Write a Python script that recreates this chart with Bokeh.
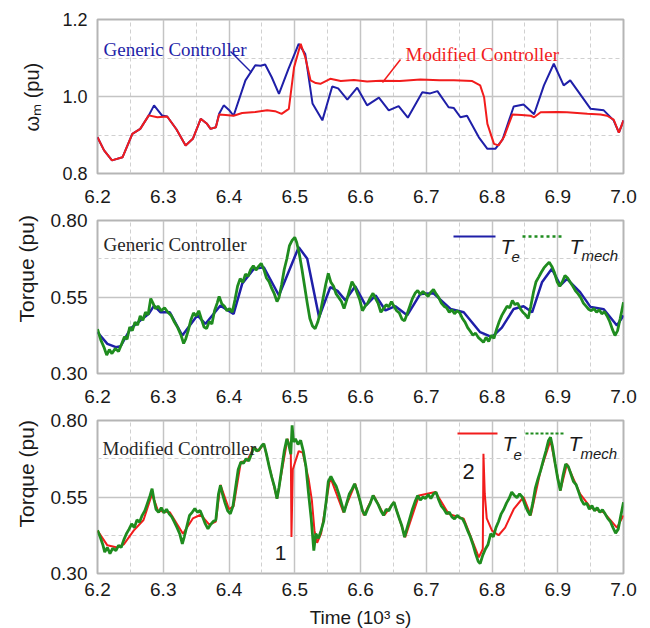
import math
from bokeh.plotting import figure
from bokeh.layouts import column
from bokeh.models import Label, Arrow, Range1d, FixedTicker, NumeralTickFormatter, Title
from bokeh.embed import file_html
from bokeh.resources import INLINE

# ---------------- data ----------------
x_ticks = [6.2, 6.3, 6.4, 6.5, 6.6, 6.7, 6.8, 6.9, 7.0]
x_minor = [6.25, 6.35, 6.45, 6.55, 6.65, 6.75, 6.85, 6.95]
w_ticks = [0.8, 1.0, 1.2]
w_minor = [0.9, 1.1]
tq_ticks = [0.30, 0.55, 0.80]
tq_minor = [0.425, 0.675]

# panel 1: rotor speed (pu)
t1_red = [6.200, 6.210, 6.222, 6.238, 6.253, 6.265, 6.278, 6.291, 6.306, 6.320,
          6.334, 6.345, 6.357, 6.366, 6.372, 6.380, 6.385, 6.395, 6.407, 6.420,
          6.440, 6.458, 6.470, 6.480, 6.491, 6.499, 6.509, 6.516, 6.524, 6.532,
          6.539, 6.554, 6.570, 6.590, 6.610, 6.630, 6.660, 6.691, 6.720, 6.742,
          6.770, 6.782, 6.788, 6.793, 6.803, 6.810, 6.818, 6.831, 6.845, 6.859,
          6.864, 6.874, 6.900, 6.914, 6.945, 6.965, 6.975, 6.985, 6.993, 7.000]
w_modified = [0.894, 0.860, 0.834, 0.842, 0.903, 0.916, 0.951, 0.946, 0.948, 0.915,
              0.873, 0.890, 0.942, 0.930, 0.916, 0.920, 0.953, 0.952, 0.950, 0.957,
              0.960, 0.964, 0.962, 0.955, 0.968, 1.076, 1.137, 1.102, 1.042, 1.035,
              1.033, 1.046, 1.040, 1.043, 1.039, 1.041, 1.040, 1.044, 1.042, 1.042,
              1.040, 1.029, 0.998, 0.929, 0.877, 0.873, 0.894, 0.953, 0.952, 0.950,
              0.946, 0.959, 0.960, 0.959, 0.955, 0.953, 0.950, 0.940, 0.906, 0.938]

t1_blue = [6.200, 6.210, 6.222, 6.238, 6.253, 6.265, 6.278, 6.286, 6.298, 6.306,
           6.320, 6.334, 6.345, 6.357, 6.366, 6.372, 6.380, 6.385, 6.392, 6.400,
           6.407, 6.425, 6.440, 6.448, 6.455, 6.465, 6.476, 6.490, 6.506, 6.516,
           6.527, 6.542, 6.557, 6.566, 6.580, 6.595, 6.610, 6.628, 6.643, 6.658,
           6.672, 6.694, 6.706, 6.717, 6.734, 6.742, 6.752, 6.762, 6.780, 6.793,
           6.805, 6.816, 6.833, 6.848, 6.864, 6.879, 6.894, 6.909, 6.919, 6.950,
           6.970, 6.985, 6.993, 7.000]
w_generic = [0.894, 0.860, 0.834, 0.842, 0.903, 0.916, 0.951, 0.977, 0.951, 0.948,
             0.915, 0.873, 0.890, 0.942, 0.930, 0.916, 0.920, 0.955, 0.977, 0.965,
             0.950, 1.042, 1.081, 1.080, 1.083, 1.050, 1.007, 1.070, 1.137, 1.110,
             0.982, 0.938, 1.026, 1.021, 0.992, 1.023, 0.977, 0.997, 0.964, 0.975,
             0.945, 1.011, 1.008, 1.014, 0.972, 0.970, 0.946, 0.950, 0.894, 0.864,
             0.864, 0.888, 0.974, 0.979, 0.954, 1.029, 1.085, 1.029, 1.042, 0.968,
             0.964, 0.938, 0.906, 0.938]

# panel 2: generic controller torques
t2_te = [6.200, 6.215, 6.228, 6.235, 6.250, 6.265, 6.278, 6.286, 6.296, 6.310,
         6.329, 6.352, 6.364, 6.387, 6.407, 6.420, 6.438, 6.453, 6.476, 6.506,
         6.519, 6.537, 6.554, 6.565, 6.577, 6.592, 6.608, 6.623, 6.638, 6.653,
         6.671, 6.691, 6.711, 6.737, 6.757, 6.782, 6.800, 6.815, 6.833, 6.848,
         6.861, 6.876, 6.891, 6.904, 6.914, 6.934, 6.950, 6.970, 6.990, 7.000]
te_generic = [0.435, 0.397, 0.386, 0.389, 0.446, 0.473, 0.495, 0.522, 0.500, 0.500,
              0.424, 0.490, 0.462, 0.522, 0.495, 0.593, 0.642, 0.647, 0.555, 0.713,
              0.675, 0.484, 0.582, 0.570, 0.539, 0.585, 0.522, 0.555, 0.506, 0.520,
              0.490, 0.560, 0.562, 0.511, 0.500, 0.435, 0.419, 0.450, 0.511, 0.520,
              0.500, 0.598, 0.642, 0.588, 0.609, 0.566, 0.517, 0.510, 0.457, 0.490]

t2_tm = [6.200, 6.205, 6.210, 6.214, 6.218, 6.222, 6.227, 6.232, 6.237, 6.241,
         6.245, 6.249, 6.253, 6.257, 6.261, 6.265, 6.269, 6.273, 6.277, 6.281,
         6.284, 6.288, 6.292, 6.297, 6.302, 6.307, 6.312, 6.317, 6.322, 6.327,
         6.331, 6.334, 6.338, 6.342, 6.346, 6.350, 6.354, 6.358, 6.362, 6.366,
         6.370, 6.374, 6.378, 6.382, 6.385, 6.389, 6.393, 6.397, 6.401, 6.405,
         6.409, 6.413, 6.417, 6.421, 6.425, 6.429, 6.433, 6.437, 6.441, 6.445,
         6.449, 6.453, 6.457, 6.461, 6.465, 6.469, 6.473, 6.476, 6.480, 6.484,
         6.488, 6.492, 6.496, 6.500, 6.503, 6.507, 6.511, 6.515, 6.519, 6.523,
         6.527, 6.531, 6.535, 6.539, 6.543, 6.547, 6.551, 6.555, 6.559, 6.563,
         6.567, 6.571, 6.575, 6.579, 6.583, 6.587, 6.591, 6.595, 6.599, 6.603,
         6.607, 6.611, 6.615, 6.619, 6.623, 6.627, 6.631, 6.635, 6.639, 6.643,
         6.647, 6.651, 6.655, 6.659, 6.663, 6.667, 6.671, 6.675, 6.679, 6.683,
         6.687, 6.691, 6.695, 6.699, 6.703, 6.707, 6.711, 6.715, 6.719, 6.723,
         6.727, 6.731, 6.735, 6.739, 6.743, 6.747, 6.751, 6.755, 6.759, 6.763,
         6.767, 6.771, 6.775, 6.779, 6.783, 6.787, 6.791, 6.795, 6.799, 6.803,
         6.807, 6.811, 6.815, 6.819, 6.823, 6.827, 6.831, 6.835, 6.839, 6.843,
         6.847, 6.851, 6.855, 6.859, 6.863, 6.867, 6.871, 6.875, 6.879, 6.883,
         6.887, 6.891, 6.895, 6.899, 6.903, 6.907, 6.911, 6.915, 6.919, 6.923,
         6.927, 6.931, 6.935, 6.939, 6.943, 6.947, 6.951, 6.955, 6.959, 6.963,
         6.967, 6.971, 6.975, 6.979, 6.983, 6.987, 6.991, 6.995, 7.000]
tm_generic = [0.445, 0.410, 0.385, 0.360, 0.378, 0.365, 0.382, 0.372, 0.398, 0.420,
              0.412, 0.452, 0.440, 0.468, 0.458, 0.488, 0.474, 0.500, 0.492, 0.545,
              0.532, 0.512, 0.520, 0.505, 0.515, 0.500, 0.490, 0.468, 0.450, 0.425,
              0.398, 0.412, 0.440, 0.475, 0.498, 0.488, 0.505, 0.478, 0.452, 0.447,
              0.470, 0.462, 0.505, 0.530, 0.552, 0.528, 0.520, 0.505, 0.512, 0.500,
              0.540, 0.585, 0.610, 0.598, 0.625, 0.618, 0.640, 0.652, 0.638, 0.650,
              0.660, 0.640, 0.612, 0.600, 0.578, 0.560, 0.535, 0.548, 0.590, 0.640,
              0.675, 0.718, 0.735, 0.745, 0.728, 0.690, 0.640, 0.585, 0.530, 0.480,
              0.455, 0.446, 0.468, 0.500, 0.545, 0.590, 0.627, 0.598, 0.585, 0.560,
              0.548, 0.535, 0.512, 0.540, 0.570, 0.600, 0.585, 0.562, 0.540, 0.505,
              0.520, 0.530, 0.548, 0.562, 0.545, 0.528, 0.500, 0.512, 0.525, 0.518,
              0.535, 0.520, 0.505, 0.498, 0.478, 0.472, 0.495, 0.520, 0.545, 0.562,
              0.571, 0.558, 0.568, 0.560, 0.552, 0.566, 0.575, 0.560, 0.548, 0.530,
              0.520, 0.515, 0.500, 0.508, 0.495, 0.505, 0.498, 0.480, 0.468, 0.450,
              0.438, 0.425, 0.432, 0.418, 0.410, 0.402, 0.418, 0.405, 0.425, 0.415,
              0.445, 0.470, 0.490, 0.505, 0.520, 0.515, 0.539, 0.525, 0.530, 0.512,
              0.500, 0.492, 0.480, 0.520, 0.565, 0.600, 0.615, 0.631, 0.645, 0.655,
              0.664, 0.650, 0.630, 0.600, 0.585, 0.600, 0.620, 0.612, 0.598, 0.585,
              0.570, 0.560, 0.548, 0.530, 0.520, 0.510, 0.505, 0.512, 0.500, 0.508,
              0.495, 0.502, 0.488, 0.470, 0.445, 0.424, 0.440, 0.480, 0.533]

# panel 3: modified controller torques
t3_te = [6.200, 6.215, 6.230, 6.240, 6.255, 6.270, 6.283, 6.292, 6.310, 6.330,
         6.345, 6.357, 6.370, 6.380, 6.387, 6.400, 6.407, 6.418, 6.428, 6.438,
         6.445, 6.453, 6.473, 6.489, 6.494, 6.495, 6.497, 6.506, 6.512, 6.521,
         6.526, 6.530, 6.534, 6.540, 6.554, 6.574, 6.592, 6.605, 6.620, 6.636,
         6.651, 6.668, 6.689, 6.714, 6.734, 6.757, 6.780, 6.786, 6.787, 6.789,
         6.792, 6.800, 6.810, 6.820, 6.833, 6.848, 6.859, 6.874, 6.889, 6.904,
         6.914, 6.934, 6.950, 6.970, 6.990, 7.000]
te_modified = [0.440, 0.392, 0.385, 0.395, 0.440, 0.475, 0.560, 0.505, 0.500, 0.430,
               0.480, 0.492, 0.460, 0.470, 0.590, 0.510, 0.520, 0.664, 0.670, 0.713,
               0.700, 0.724, 0.544, 0.740, 0.700, 0.419, 0.640, 0.700, 0.695, 0.610,
               0.540, 0.440, 0.400, 0.430, 0.615, 0.500, 0.593, 0.490, 0.555, 0.490,
               0.533, 0.419, 0.555, 0.566, 0.495, 0.479, 0.353, 0.380, 0.691, 0.560,
               0.480, 0.440, 0.425, 0.450, 0.510, 0.550, 0.490, 0.637, 0.735, 0.571,
               0.658, 0.560, 0.515, 0.500, 0.450, 0.490]

t3_tm = [6.200, 6.204, 6.208, 6.211, 6.215, 6.219, 6.223, 6.228, 6.232, 6.236,
         6.240, 6.244, 6.248, 6.252, 6.256, 6.260, 6.264, 6.268, 6.272, 6.276,
         6.280, 6.283, 6.286, 6.289, 6.293, 6.297, 6.301, 6.305, 6.309, 6.313,
         6.317, 6.321, 6.325, 6.329, 6.332, 6.336, 6.340, 6.344, 6.348, 6.352,
         6.356, 6.360, 6.364, 6.368, 6.372, 6.376, 6.380, 6.384, 6.387, 6.390,
         6.394, 6.398, 6.402, 6.406, 6.410, 6.414, 6.418, 6.422, 6.426, 6.430,
         6.434, 6.438, 6.442, 6.446, 6.450, 6.453, 6.457, 6.461, 6.465, 6.469,
         6.473, 6.476, 6.480, 6.484, 6.488, 6.491, 6.494, 6.496, 6.498, 6.501,
         6.505, 6.509, 6.513, 6.517, 6.521, 6.525, 6.529, 6.532, 6.536, 6.540,
         6.544, 6.548, 6.551, 6.555, 6.559, 6.563, 6.567, 6.571, 6.575, 6.579,
         6.583, 6.587, 6.591, 6.595, 6.599, 6.603, 6.607, 6.611, 6.615, 6.619,
         6.623, 6.627, 6.631, 6.635, 6.639, 6.643, 6.647, 6.651, 6.655, 6.659,
         6.663, 6.667, 6.671, 6.675, 6.679, 6.683, 6.687, 6.691, 6.695, 6.699,
         6.703, 6.707, 6.711, 6.715, 6.719, 6.723, 6.727, 6.731, 6.735, 6.739,
         6.743, 6.747, 6.751, 6.755, 6.759, 6.763, 6.767, 6.771, 6.775, 6.779,
         6.782, 6.786, 6.790, 6.794, 6.798, 6.802, 6.806, 6.810, 6.814, 6.818,
         6.822, 6.826, 6.830, 6.834, 6.838, 6.842, 6.846, 6.850, 6.854, 6.858,
         6.862, 6.866, 6.870, 6.874, 6.878, 6.882, 6.886, 6.889, 6.892, 6.896,
         6.900, 6.904, 6.908, 6.912, 6.916, 6.920, 6.924, 6.928, 6.932, 6.936,
         6.940, 6.944, 6.948, 6.952, 6.956, 6.960, 6.964, 6.968, 6.972, 6.976,
         6.980, 6.984, 6.988, 6.992, 6.996, 7.000]
tm_modified = [0.441, 0.420, 0.395, 0.370, 0.385, 0.365, 0.382, 0.375, 0.392, 0.385,
               0.410, 0.430, 0.445, 0.462, 0.450, 0.475, 0.468, 0.490, 0.505, 0.530,
               0.555, 0.577, 0.540, 0.510, 0.500, 0.515, 0.498, 0.510, 0.495, 0.485,
               0.468, 0.450, 0.430, 0.397, 0.420, 0.455, 0.490, 0.500, 0.512, 0.500,
               0.506, 0.485, 0.462, 0.446, 0.460, 0.470, 0.475, 0.560, 0.588, 0.560,
               0.530, 0.505, 0.495, 0.520, 0.580, 0.640, 0.664, 0.660, 0.675, 0.668,
               0.690, 0.713, 0.700, 0.705, 0.718, 0.724, 0.690, 0.650, 0.615, 0.585,
               0.544, 0.580, 0.640, 0.700, 0.740, 0.720, 0.690, 0.784, 0.730, 0.740,
               0.722, 0.735, 0.700, 0.650, 0.561, 0.480, 0.375, 0.430, 0.415, 0.440,
               0.470, 0.540, 0.600, 0.617, 0.600, 0.585, 0.560, 0.530, 0.500, 0.530,
               0.560, 0.575, 0.593, 0.570, 0.540, 0.505, 0.490, 0.512, 0.530, 0.555,
               0.540, 0.525, 0.505, 0.490, 0.510, 0.505, 0.522, 0.533, 0.505, 0.480,
               0.455, 0.419, 0.450, 0.480, 0.510, 0.535, 0.555, 0.540, 0.550, 0.545,
               0.558, 0.545, 0.560, 0.566, 0.540, 0.520, 0.510, 0.495, 0.500, 0.485,
               0.478, 0.490, 0.482, 0.479, 0.462, 0.440, 0.420, 0.395, 0.365, 0.340,
               0.332, 0.360, 0.380, 0.395, 0.430, 0.420, 0.450, 0.470, 0.495, 0.510,
               0.530, 0.545, 0.566, 0.555, 0.548, 0.560, 0.550, 0.525, 0.505, 0.490,
               0.530, 0.580, 0.610, 0.637, 0.670, 0.700, 0.735, 0.745, 0.715, 0.660,
               0.610, 0.571, 0.620, 0.658, 0.650, 0.625, 0.600, 0.590, 0.565, 0.540,
               0.525, 0.530, 0.510, 0.522, 0.505, 0.515, 0.500, 0.508, 0.495, 0.480,
               0.470, 0.450, 0.432, 0.445, 0.490, 0.533]

# ---------------- styling / layout ----------------
BLUE = "#1f1fa8"
RED = "#f21c1c"
GREEN = "#1f8c1f"
TXT = "#1a1a1a"

FRAME_L, FRAME_R = 97, 623
X0, X1 = 6.2, 7.0
P1 = dict(top=19, bot=173, y0=0.8, y1=1.2)
P2 = dict(top=220, bot=373, y0=0.30, y1=0.80)
P3 = dict(top=420, bot=573, y0=0.30, y1=0.80)


def dx(px):
    return X0 + (px - FRAME_L) * (X1 - X0) / (FRAME_R - FRAME_L)


def dy(py, P):
    return P["y1"] - (py - P["top"]) * (P["y1"] - P["y0"]) / (P["bot"] - P["top"])


def make_panel(P, page_top, height, yticks, yminor, yfmt, ysize, xstand):
    top = P["top"] - page_top
    bottom = height - top - (P["bot"] - P["top"])
    p = figure(width=650, frame_height=P["bot"] - P["top"],
               x_range=Range1d(X0, X1),
               y_range=Range1d(P["y0"], P["y1"]), output_backend="svg",
               toolbar_location=None, min_border_left=FRAME_L,
               min_border_right=650 - FRAME_R, min_border_top=top,
               min_border_bottom=bottom)
    p.background_fill_color = "white"
    p.border_fill_color = "white"
    p.outline_line_color = "#b5b5b5"
    p.outline_line_width = 2
    xt = FixedTicker(ticks=x_ticks, minor_ticks=x_minor)
    yt = FixedTicker(ticks=yticks, minor_ticks=yminor)
    p.xaxis.ticker = xt
    p.xgrid.ticker = xt
    p.yaxis.ticker = yt
    p.ygrid.ticker = yt
    p.xaxis.formatter = NumeralTickFormatter(format="0.0")
    p.yaxis.formatter = NumeralTickFormatter(format=yfmt)
    for ax in (p.xaxis, p.yaxis):
        ax.axis_line_color = None
        ax.major_tick_line_color = None
        ax.minor_tick_line_color = None
        ax.major_tick_out = 0
        ax.major_tick_in = 0
        ax.minor_tick_out = 0
        ax.major_label_text_font = "Liberation Sans"
        ax.major_label_text_color = TXT
    p.xaxis.major_label_text_font_size = "19px"
    p.yaxis.major_label_text_font_size = ysize
    p.xaxis.major_label_standoff = xstand
    p.yaxis.major_label_standoff = 10
    for g in (p.xgrid, p.ygrid):
        g.grid_line_color = "#c4c4c4"
        g.grid_line_width = 1.5
        g.minor_grid_line_color = "#d0d0d0"
        g.minor_grid_line_dash = "4 3"
        g.minor_grid_line_width = 1
    return p


def ylabel(p, text, offset, standoff, size="21px"):
    p.add_layout(Title(text=text, align="left", offset=offset, standoff=standoff,
                       text_font="Liberation Sans", text_font_size=size,
                       text_font_style="normal", text_color=TXT), "left")


def lab(p, P, px, py, text, font="Liberation Sans", size="19px", color=TXT,
        style="normal", align="left"):
    p.add_layout(Label(x=dx(px), y=dy(py, P), text=text, text_font=font,
                       text_font_size=size, text_color=color,
                       text_font_style=style, text_align=align,
                       text_baseline="alphabetic"))


def seg(p, P, x0, y0, x1, y1, color, width=1.5, dash="solid"):
    p.add_layout(Arrow(end=None, x_start=dx(x0), y_start=dy(y0, P),
                       x_end=dx(x1), y_end=dy(y1, P), line_color=color,
                       line_width=width, line_dash=dash))


# ---------- panel 1 ----------
p1 = make_panel(P1, 0, 210, w_ticks, w_minor, "0.0", "18px", 16)
p1.line(t1_blue, w_generic, line_color=BLUE, line_width=2)
p1.line(t1_red, w_modified, line_color=RED, line_width=2)
lab(p1, P1, 103, 49, "Generic Controller", font="Liberation Serif", color=BLUE)
seg(p1, P1, 230, 51, 251, 72, BLUE, 1.5)
lab(p1, P1, 405, 54, "Modified Controller", font="Liberation Serif", color=RED)
seg(p1, P1, 400, 59, 382, 82, RED, 1.5)
ylabel(p1, "ωₘ (pu)", 42, 34, "20px")

# ---------- panel 2 ----------
p2 = make_panel(P2, 210, 200, tq_ticks, tq_minor, "0.00", "19px", 16)
p2.line(t2_te, te_generic, line_color=BLUE, line_width=2.5)
p2.line(t2_tm, tm_generic, line_color=GREEN, line_width=2.8)
lab(p2, P2, 103, 244, "Generic Controller", font="Liberation Serif", color="#262626")
seg(p2, P2, 453, 236, 495, 236, BLUE, 2)
lab(p2, P2, 500, 246, "T", size="21px", style="italic")
lab(p2, P2, 511, 256, "e", size="15px", style="italic")
seg(p2, P2, 522, 236, 564, 236, GREEN, 2.5, "3 3")
lab(p2, P2, 569, 246, "T", size="21px", style="italic")
lab(p2, P2, 581, 255, "mech", size="15px", style="italic")
ylabel(p2, "Torque (pu)", 51, 20)

# ---------- panel 3 ----------
p3 = make_panel(P3, 410, 218, tq_ticks, tq_minor, "0.00", "19px", 9)
p3.line(t3_te, te_modified, line_color=RED, line_width=2)
p3.line(t3_tm, tm_modified, line_color=GREEN, line_width=2.8)
lab(p3, P3, 102, 448, "Modified Controller", font="Liberation Serif", color="#262626")
seg(p3, P3, 457, 433, 497, 433, RED, 2)
lab(p3, P3, 502, 443, "T", size="21px", style="italic")
lab(p3, P3, 513, 454, "e", size="15px", style="italic")
seg(p3, P3, 525, 433, 565, 433, GREEN, 2, "3 2")
lab(p3, P3, 568, 443, "T", size="21px", style="italic")
lab(p3, P3, 580, 453, "mech", size="15px", style="italic")
lab(p3, P3, 280, 552, "1", size="21px", align="center")
lab(p3, P3, 468, 471, "2", size="22px", align="center")
ylabel(p3, "Torque (pu)", 46, 20)
p3.xaxis.axis_label = "Time (10³ s)"
p3.xaxis.axis_label_text_font = "Liberation Sans"
p3.xaxis.axis_label_text_font_size = "19px"
p3.xaxis.axis_label_text_font_style = "normal"
p3.xaxis.axis_label_text_color = TXT
p3.xaxis.axis_label_standoff = 8

layout = column(p1, p2, p3)
open("out.html", "w").write(file_html(layout, INLINE))
